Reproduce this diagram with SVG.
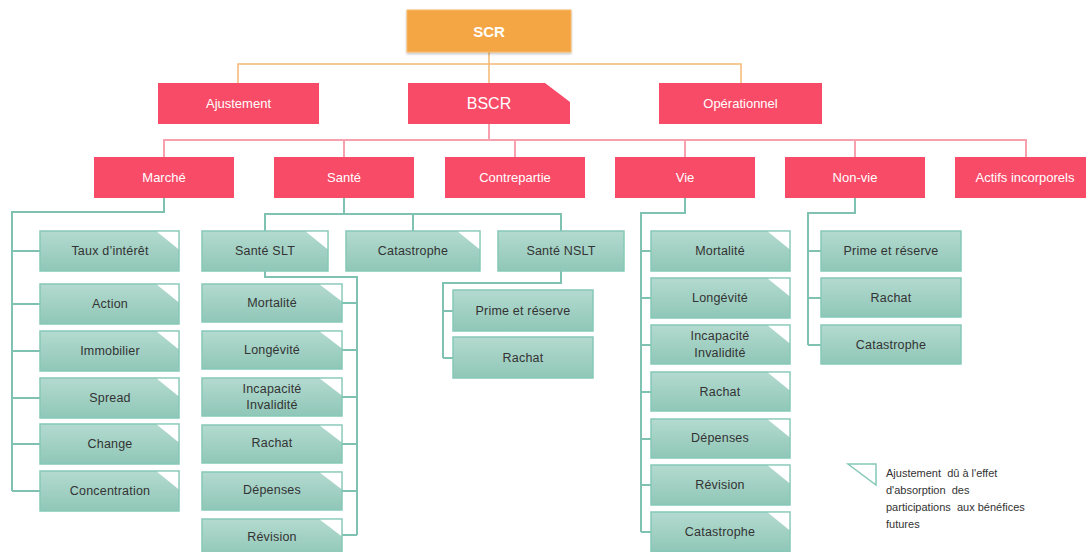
<svg xmlns="http://www.w3.org/2000/svg" width="1086" height="552" viewBox="0 0 1086 552">
<defs>
<linearGradient id="tg" x1="0" y1="0" x2="0" y2="1">
<stop offset="0" stop-color="#B4DAD0"/>
<stop offset="1" stop-color="#8FC7B7"/>
</linearGradient>
<filter id="sh" x="-10%" y="-10%" width="120%" height="140%">
<feDropShadow dx="0" dy="1.5" stdDeviation="1.2" flood-color="#000" flood-opacity="0.25"/>
</filter>
</defs>
<style>
text{font-family:"Liberation Sans",Arial,sans-serif;text-anchor:middle;dominant-baseline:central}
.r rect{fill:#F84B67;stroke:none}
.r text{fill:#FFFFFF;font-size:13px}
.t rect{fill:url(#tg);stroke:#86C8B8;stroke-width:1.5}
.t text{fill:#333333;font-size:12.5px;letter-spacing:0.2px}
.fold{fill:#FFFFFF;stroke:none}
.co{fill:none;stroke:#F5B874;stroke-width:1.5}
.cp{fill:none;stroke:#F7A1AF;stroke-width:2}
.ct{fill:none;stroke:#7FC2B2;stroke-width:2}
.leg{font-family:"Liberation Sans",Arial,sans-serif;font-size:11px;fill:#333333;text-anchor:start;letter-spacing:0px}
</style>
<g id="connectors">
<path class="co" d="M489,52 V83 M238,83 V64 H741 V83"/>
<path class="cp" d="M489,124 V140 M164,157 V140 H1026 V157 M344,140 V157 M515,140 V157 M685,140 V157 M855,140 V157"/>
<path class="ct" d="M164,198 V212 H12 V491 M12,251 H40 M12,304 H40 M12,351 H40 M12,398 H40 M12,444 H40 M12,491 H40"/>
<path class="ct" d="M344,198 V214 M265,231 V214 H561 V231 M413,214 V231"/>
<path class="ct" d="M265,271 V277 H357 V535 M357,303 H342 M357,350 H342 M357,397 H342 M357,444 H342 M357,491 H342 M357,535 H342"/>
<path class="ct" d="M561,271 V283 H443 V358 M443,311 H453 M443,358 H453"/>
<path class="ct" d="M685,198 V213 H641 V532 M641,251 H651 M641,298 H651 M641,345 H651 M641,392 H651 M641,439 H651 M641,485 H651 M641,532 H651"/>
<path class="ct" d="M855,198 V213 H808 V345 M808,251 H821 M808,298 H821 M808,345 H821"/>
</g>
<g id="scr"><rect x="407" y="10" width="164" height="42" fill="#F4A644" stroke="#F6B86A" stroke-width="1" filter="url(#sh)"/><text x="489" y="31" fill="#FFFFFF" font-size="15" font-weight="bold">SCR</text></g>
<g id="ajustement" class="r"><rect x="158" y="83" width="161" height="41"/><text x="238.5" y="103.5">Ajustement</text></g>
<g id="bscr" class="r"><rect x="408" y="83" width="162" height="41"/><polygon class="fold" points="545,83 570,83 570,102"/><text x="489" y="103.5" style="font-size:16px">BSCR</text></g>
<g id="operationnel" class="r"><rect x="659" y="83" width="163" height="41"/><text x="740.5" y="103.5">Opérationnel</text></g>
<g id="marche" class="r"><rect x="94" y="157" width="140" height="41"/><text x="164" y="177.5">Marché</text></g>
<g id="sante" class="r"><rect x="274" y="157" width="140" height="41"/><text x="344" y="177.5">Santé</text></g>
<g id="contrepartie" class="r"><rect x="445" y="157" width="140" height="41"/><text x="515" y="177.5">Contrepartie</text></g>
<g id="vie" class="r"><rect x="615" y="157" width="140" height="41"/><text x="685" y="177.5">Vie</text></g>
<g id="nonvie" class="r"><rect x="785" y="157" width="140" height="41"/><text x="855" y="177.5">Non-vie</text></g>
<g id="actifs" class="r"><rect x="955" y="157" width="140" height="41"/><text x="1025" y="177.5">Actifs incorporels</text></g>

<g id="m-taux" class="t"><rect x="40" y="231" width="139" height="40"/><polygon class="fold" points="157,231.75 178.25,231.75 178.25,249"/><text x="110" y="251">Taux d’intérêt</text></g>
<g id="m-action" class="t"><rect x="40" y="284" width="139" height="40"/><polygon class="fold" points="157,284.75 178.25,284.75 178.25,302"/><text x="110" y="304">Action</text></g>
<g id="m-immobilier" class="t"><rect x="40" y="331" width="139" height="40"/><polygon class="fold" points="157,331.75 178.25,331.75 178.25,349"/><text x="110" y="351">Immobilier</text></g>
<g id="m-spread" class="t"><rect x="40" y="378" width="139" height="40"/><polygon class="fold" points="157,378.75 178.25,378.75 178.25,396"/><text x="110" y="398">Spread</text></g>
<g id="m-change" class="t"><rect x="40" y="424" width="139" height="40"/><polygon class="fold" points="157,424.75 178.25,424.75 178.25,442"/><text x="110" y="444">Change</text></g>
<g id="m-concentration" class="t"><rect x="40" y="471" width="139" height="40"/><polygon class="fold" points="157,471.75 178.25,471.75 178.25,489"/><text x="110" y="491">Concentration</text></g>

<g id="s-slt" class="t"><rect x="202" y="231" width="126" height="40"/><polygon class="fold" points="306,231.75 327.25,231.75 327.25,249"/><text x="265" y="251">Santé SLT</text></g>
<g id="s-cat" class="t"><rect x="346" y="231" width="134" height="40"/><polygon class="fold" points="458,231.75 479.25,231.75 479.25,249"/><text x="413" y="251">Catastrophe</text></g>
<g id="s-nslt" class="t"><rect x="498" y="231" width="126" height="40"/><text x="561" y="251">Santé NSLT</text></g>

<g id="slt-mortalite" class="t"><rect x="202" y="284" width="140" height="38"/><polygon class="fold" points="320,284.75 341.25,284.75 341.25,301"/><text x="272" y="303">Mortalité</text></g>
<g id="slt-longevite" class="t"><rect x="202" y="331" width="140" height="38"/><polygon class="fold" points="320,331.75 341.25,331.75 341.25,348"/><text x="272" y="350">Longévité</text></g>
<g id="slt-incapacite" class="t"><rect x="202" y="378" width="140" height="38"/><polygon class="fold" points="320,378.75 341.25,378.75 341.25,395"/><text x="272" y="388.5">Incapacité</text><text x="272" y="405">Invalidité</text></g>
<g id="slt-rachat" class="t"><rect x="202" y="425" width="140" height="38"/><polygon class="fold" points="320,425.75 341.25,425.75 341.25,442"/><text x="272" y="443">Rachat</text></g>
<g id="slt-depenses" class="t"><rect x="202" y="472" width="140" height="38"/><polygon class="fold" points="320,472.75 341.25,472.75 341.25,489"/><text x="272" y="490">Dépenses</text></g>
<g id="slt-revision" class="t"><rect x="202" y="519" width="140" height="38"/><polygon class="fold" points="320,519.75 341.25,519.75 341.25,536"/><text x="272" y="537">Révision</text></g>

<g id="nslt-prime" class="t"><rect x="453" y="290" width="140" height="41"/><text x="523" y="310.5">Prime et réserve</text></g>
<g id="nslt-rachat" class="t"><rect x="453" y="337" width="140" height="41"/><text x="523" y="357.5">Rachat</text></g>

<g id="v-mortalite" class="t"><rect x="651" y="231" width="139" height="40"/><polygon class="fold" points="768,231.75 789.25,231.75 789.25,249"/><text x="720" y="251">Mortalité</text></g>
<g id="v-longevite" class="t"><rect x="651" y="278" width="139" height="40"/><polygon class="fold" points="768,278.75 789.25,278.75 789.25,296"/><text x="720" y="298">Longévité</text></g>
<g id="v-incapacite" class="t"><rect x="651" y="325" width="139" height="39"/><polygon class="fold" points="768,325.75 789.25,325.75 789.25,343"/><text x="720" y="336">Incapacité</text><text x="720" y="353">Invalidité</text></g>
<g id="v-rachat" class="t"><rect x="651" y="372" width="139" height="39"/><polygon class="fold" points="768,372.75 789.25,372.75 789.25,390"/><text x="720" y="391.5">Rachat</text></g>
<g id="v-depenses" class="t"><rect x="651" y="419" width="139" height="39"/><polygon class="fold" points="768,419.75 789.25,419.75 789.25,437"/><text x="720" y="438">Dépenses</text></g>
<g id="v-revision" class="t"><rect x="651" y="465" width="139" height="40"/><polygon class="fold" points="768,465.75 789.25,465.75 789.25,483"/><text x="720" y="485">Révision</text></g>
<g id="v-catastrophe" class="t"><rect x="651" y="512" width="139" height="40"/><polygon class="fold" points="768,512.75 789.25,512.75 789.25,530"/><text x="720" y="532">Catastrophe</text></g>

<g id="nv-prime" class="t"><rect x="821" y="231" width="140" height="40"/><text x="891" y="251">Prime et réserve</text></g>
<g id="nv-rachat" class="t"><rect x="821" y="278" width="140" height="39"/><text x="891" y="297.5">Rachat</text></g>
<g id="nv-catastrophe" class="t"><rect x="821" y="325" width="140" height="39"/><text x="891" y="344.5">Catastrophe</text></g>

<g id="legend">
<polygon points="848,464 876,464 876,485" fill="#FFFFFF" stroke="#86C8B8" stroke-width="1.5"/>
<text class="leg" x="886" y="473" xml:space="preserve">Ajustement  dû à l'effet</text>
<text class="leg" x="886" y="490" xml:space="preserve">d'absorption  des</text>
<text class="leg" x="886" y="507" xml:space="preserve">participations  aux bénéfices</text>
<text class="leg" x="886" y="524">futures</text>
</g>
</svg>
